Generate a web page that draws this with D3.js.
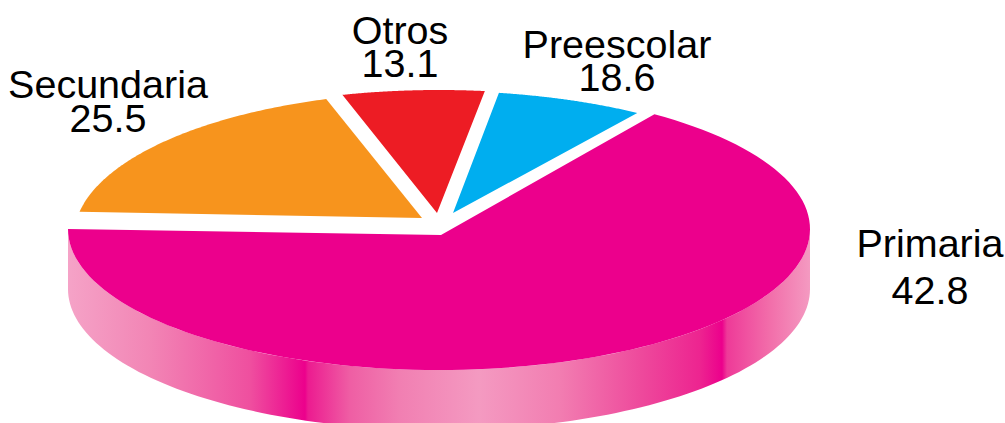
<!DOCTYPE html>
<html><head><meta charset="utf-8">
<script src="https://cdn.jsdelivr.net/npm/d3@7"></script>
<style>html,body{margin:0;padding:0;background:#fff;overflow:hidden}svg{display:block}
text{font-family:"Liberation Sans",Arial,sans-serif;font-size:39.5px;fill:#000;text-anchor:middle}</style>
</head><body><svg id="c" width="1005" height="423"></svg>
<script>
// Data
const categories = ["Primaria","Secundaria","Otros","Preescolar"];
const values = [42.8,25.5,13.1,18.6];
// The drawn slices do not follow the printed values: angles (degrees clockwise from top) as seen in the picture
const drawnStart = [35.5,280,-15.1,9.3];
const drawnEnd   = [270,342,7.1,32.3];
const colors = ["#ec008c","#f7941d","#ed1c24","#00aeef"];

// Layout constants
const W=1005,H=423;
const geom = [
 {cx:439,cy:229,rx:371,ry:141,ax:441,ay:235},
 {cx:439,cy:237,rx:365,ry:145,ax:422,ay:218},
 {cx:439,cy:231,rx:371,ry:141,ax:437,ay:213},
 {cx:439,cy:233,rx:371,ry:142,ax:453,ay:213}
];
const labelPos = [[930,257,304],[108,98,132],[400,44,77],[617,58,91]];
const depth=60;

const svg=d3.select("#c");
const rad=d3.scaleLinear().domain([0,360]).range([0,2*Math.PI]);
const line=d3.line();
const rim=(g,a0,a1,dy=0)=>d3.range(0,121).map(i=>{
  const a=rad(a0+(a1-a0)*i/120);
  return [g.cx+g.rx*Math.sin(a), g.cy+dy-g.ry*Math.cos(a)];
});

// side wall gradient
const sx=d3.scaleLinear().domain([68,810]).range([0,100]);
const stops=[[68,"#f5a3c7"],[150,"#f285b5"],[250,"#ef4f9f"],[305,"#ec008c"],[308,"#ec1b90"],[350,"#ef5ea4"],[400,"#f17fb2"],[479,"#f49ac1"],[560,"#f27db1"],[640,"#ee4a9c"],[700,"#ed2490"],[722,"#ec008c"],[727,"#ee3a98"],[770,"#f26eaa"],[810,"#f49ac1"]];
const grad=svg.append("defs").append("linearGradient").attr("id","side");
grad.selectAll("stop").data(stops).join("stop")
  .attr("offset",d=>sx(d[0])+"%").attr("stop-color",d=>d[1]);

const g0=geom[0];
svg.append("path")
  .attr("d",line([...rim(g0,90,270),...rim(g0,270,90,depth)])+"Z")
  .attr("fill","url(#side)");

// top faces
svg.selectAll("path.slice").data(categories).join("path").attr("class","slice")
  .attr("d",(d,i)=>{
    const g=geom[i];
    return line([[g.ax,g.ay],...rim(g,drawnStart[i],drawnEnd[i])])+"Z";
  })
  .attr("fill",(d,i)=>colors[i]);

// labels
categories.forEach((c,i)=>{
  const [x,y1,y2]=labelPos[i];
  svg.append("text").attr("x",x).attr("y",y1).text(c);
  svg.append("text").attr("x",x).attr("y",y2).text(d3.format(".1f")(values[i]));
});
</script></body></html>
